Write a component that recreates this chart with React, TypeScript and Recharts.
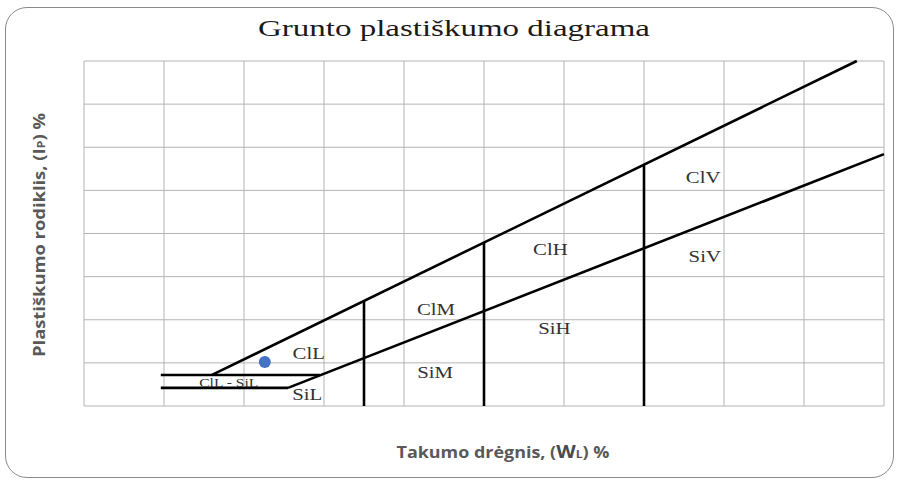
import { ComposedChart, Line, Scatter, XAxis, YAxis, CartesianGrid } from 'recharts'

const xTicks = [0, 10, 20, 30, 40, 50, 60, 70, 80, 90, 100]
const yTicks = [0, 10, 20, 30, 40, 50, 60, 70, 80]

// boundary lines, points as (wL %, Ip %)
const aLine = [{ x: 16, y: 7.2 }, { x: 96.6, y: 80 }]
const siltLine = [{ x: 25.5, y: 4.2 }, { x: 100, y: 58.4 }]
const clSiUpper = [{ x: 9.6, y: 7.2 }, { x: 29.5, y: 7.2 }]
const clSiLower = [{ x: 9.6, y: 4.2 }, { x: 25.5, y: 4.2 }]
const limitL = [{ x: 35, y: 0 }, { x: 35, y: 24.3 }]
const limitM = [{ x: 50, y: 0 }, { x: 50, y: 37.8 }]
const limitH = [{ x: 70, y: 0 }, { x: 70, y: 55.8 }]

const sample = [{ x: 22.6, y: 10.2 }]

const zoneNames = ['ClL', 'ClL - SiL', 'SiL', 'ClM', 'SiM', 'ClH', 'SiH', 'ClV', 'SiV']
const zoneX = [28.1, 18.1, 27.9, 44, 43.9, 58.3, 58.8, 77.4, 77.6]
const zoneY = [12.3, 5.3, 2.6, 22.5, 7.9, 36.4, 17.9, 52.9, 34.8]

const zones = zoneNames.map((name, i) => ({ x: zoneX[i], y: zoneY[i], name }))
const boundaries = [aLine, siltLine, clSiUpper, clSiLower, limitL, limitM, limitH]

const W = 897
const H = 483

function ZoneLabel(p: any) {
  const { cx, cy } = p
  const name = p.payload.name
  const small = name.includes('-')
  return (
    <text
      x={cx}
      y={cy}
      textAnchor="middle"
      dominantBaseline="central"
      fontFamily="'Liberation Serif', serif"
      fontSize={small ? 12 : 16}
      fill="#333"
      transform={`translate(${cx} ${cy}) scale(1.3 1) translate(${-cx} ${-cy})`}
    >
      {name}
    </text>
  )
}

// no tick text, but keep ticks so the grid and tick marks are drawn
const NoTick = () => <g />

export default function App() {
  return (
    <div style={{ position: 'absolute', left: 0, top: 0, width: W, height: H, background: '#fff' }}>
      <div
        style={{
          position: 'absolute', left: 5, top: 7, width: 889, height: 471,
          border: '1.5px solid #8a8a8a', borderRadius: 22, boxSizing: 'border-box',
        }}
      />
      <ComposedChart
        width={W}
        height={H}
        margin={{ top: 61, left: 84, right: 13, bottom: 77 }}
        style={{ position: 'absolute', left: 0, top: 0 }}
      >
        <CartesianGrid stroke="#b4b4b4" strokeWidth={1} />
        <XAxis
          type="number"
          dataKey="x"
          domain={[0, 100]}
          ticks={xTicks}
          interval={0}
          height={0}
          tick={NoTick}
          tickLine={false}
          axisLine={{ stroke: '#999', strokeWidth: 2.5 }}
        />
        <YAxis
          type="number"
          dataKey="y"
          domain={[0, 80]}
          ticks={yTicks}
          interval={0}
          width={0}
          tick={NoTick}
          tickSize={4}
          tickLine={{ stroke: '#999' }}
          axisLine={{ stroke: '#888', strokeWidth: 3 }}
        />
        <Scatter data={zones} shape={ZoneLabel} isAnimationActive={false} />
        {boundaries.map((d, i) => (
          <Line
            key={i}
            data={d}
            dataKey="y"
            stroke="#000"
            strokeWidth={2.6}
            dot={false}
            activeDot={false}
            isAnimationActive={false}
          />
        ))}
        <Scatter
          data={sample}
          shape={(p: any) => <circle cx={p.cx} cy={p.cy} r={6} fill="#4472c4" />}
          isAnimationActive={false}
        />
      </ComposedChart>
      <svg width={W} height={H} style={{ position: 'absolute', left: 0, top: 0, pointerEvents: 'none' }}>
        <text
          x={454}
          y={36}
          textAnchor="middle"
          fontFamily="'Liberation Serif', serif"
          fontSize={24}
          fill="#1a1a1a"
          textLength={392}
          lengthAdjust="spacingAndGlyphs"
        >
          Grunto plastiškumo diagrama
        </text>
        <text
          transform="translate(45 235) rotate(-90)"
          textAnchor="middle"
          fontFamily="'Open Sans', sans-serif"
          fontWeight={700}
          fontSize={16}
          fill="#595959"
          textLength={244}
          lengthAdjust="spacingAndGlyphs"
        >
          Plastiškumo rodiklis, (I<tspan fontSize={11}>P</tspan>) %
        </text>
        <text
          x={503}
          y={458}
          textAnchor="middle"
          fontFamily="'Open Sans', sans-serif"
          fontWeight={700}
          fontSize={16}
          fill="#595959"
          textLength={213}
          lengthAdjust="spacingAndGlyphs"
        >
          Takumo drėgnis, (<tspan fill="#4a4a4a" fontSize={18}>W</tspan><tspan fontSize={11}>L</tspan>) %
        </text>
      </svg>
    </div>
  )
}
